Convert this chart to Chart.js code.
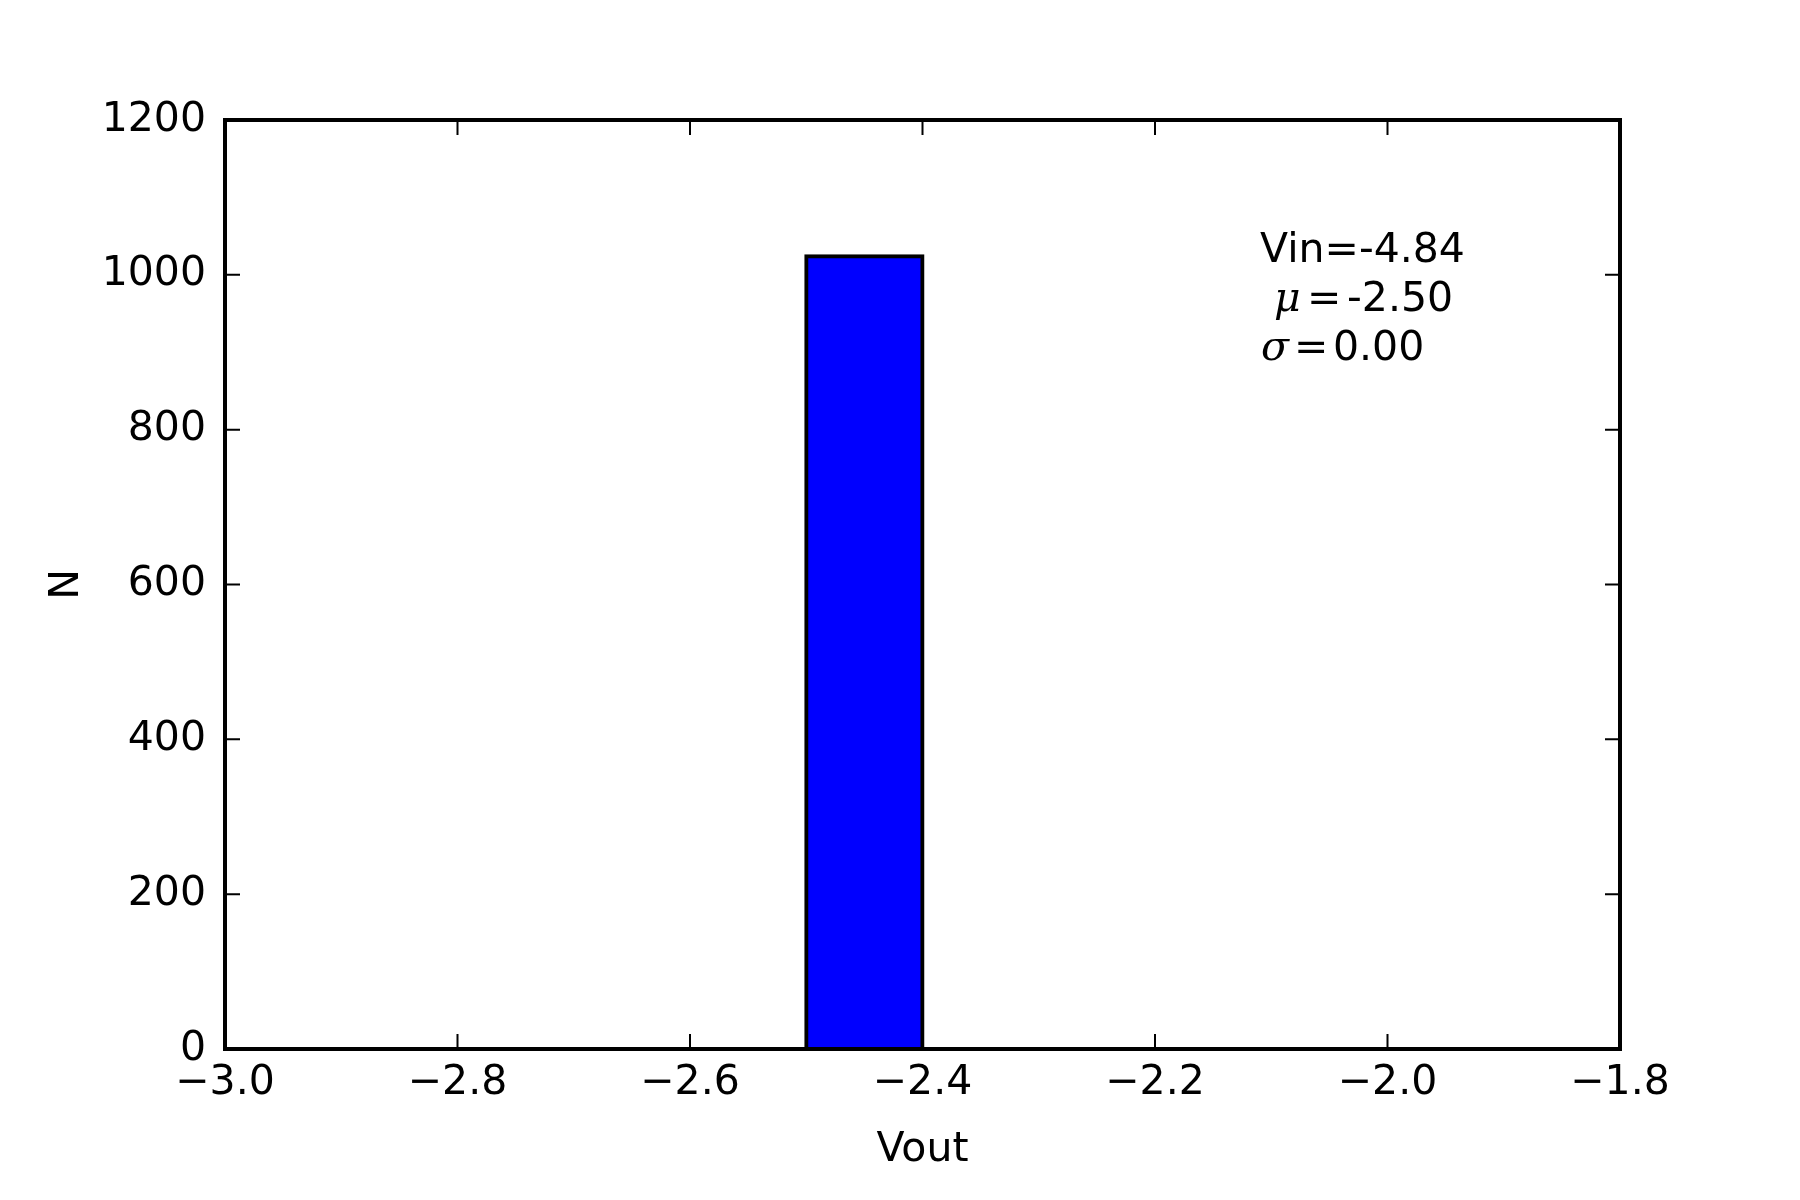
<!DOCTYPE html>
<html>
<head>
<meta charset="utf-8">
<script src="https://cdn.jsdelivr.net/npm/chart.js@4"></script>
<style>
  html, body { margin: 0; padding: 0; background: #fff; }
  canvas { display: block; }
</style>
</head>
<body>
<canvas id="histChart" width="1800" height="1200"></canvas>
<script>
// histogram data (10 bins, all samples landed in one bin)
const binEdges = [-3.0, -2.9, -2.8, -2.7, -2.6, -2.5, -2.4, -2.3, -2.2, -2.1, -2.0];
const counts = [0, 0, 0, 0, 0, 1024, 0, 0, 0, 0];
const xRange = [-3.0, -1.8];
const yRange = [0, 1200];
const xStep = 0.2;
const yStep = 200;
const infoLines = ['Vin=-4.84', '-2.50', '0.00'];

const FONT = 'DejaVu Sans';
const SIZE = 41;

const points = counts.map((c, i) => ({ x: (binEdges[i] + binEdges[i + 1]) / 2, y: c }));

function fmtX(v) {
  return Number(v).toFixed(1).replace('-', '\u2212');
}

// matplotlib classic look: frame, inward ticks on all four sides, text box
const framePlugin = {
  id: 'frame',
  afterDraw(chart) {
    const ctx = chart.ctx;
    const a = chart.chartArea;
    const xs = chart.scales.x;
    const ys = chart.scales.y;
    const tl = 15;
    ctx.save();
    ctx.strokeStyle = '#000';
    ctx.lineWidth = 2;
    ctx.beginPath();
    xs.ticks.forEach(t => {
      const px = xs.getPixelForValue(t.value);
      ctx.moveTo(px, a.bottom); ctx.lineTo(px, a.bottom - tl);
      ctx.moveTo(px, a.top); ctx.lineTo(px, a.top + tl);
    });
    ys.ticks.forEach(t => {
      const py = ys.getPixelForValue(t.value);
      ctx.moveTo(a.left, py); ctx.lineTo(a.left + tl, py);
      ctx.moveTo(a.right, py); ctx.lineTo(a.right - tl, py);
    });
    ctx.stroke();

    ctx.lineWidth = 4;
    ctx.strokeRect(a.left, a.top, a.right - a.left, a.bottom - a.top);

    // stats text
    const x0 = a.left + 1035;
    ctx.fillStyle = '#000';
    ctx.textBaseline = 'alphabetic';
    ctx.textAlign = 'left';
    ctx.font = SIZE + 'px "' + FONT + '"';
    ctx.fillText(infoLines[0], x0, a.top + 142);

    ctx.font = 'italic ' + SIZE + 'px "DejaVu Serif"';
    ctx.fillText('\u03bc', x0 + 14, a.top + 191);
    ctx.font = SIZE + 'px "DejaVu Serif"';
    ctx.fillText('=', x0 + 47, a.top + 191);
    ctx.font = SIZE + 'px "' + FONT + '"';
    ctx.fillText(infoLines[1], x0 + 87, a.top + 191);

    ctx.font = 'italic ' + SIZE + 'px "DejaVu Serif"';
    ctx.fillText('\u03c3', x0 + 1, a.top + 240);
    ctx.font = SIZE + 'px "DejaVu Serif"';
    ctx.fillText('=', x0 + 34, a.top + 240);
    ctx.font = SIZE + 'px "' + FONT + '"';
    ctx.fillText(infoLines[2], x0 + 73, a.top + 240);
    ctx.restore();
  }
};

const ctx = document.getElementById('histChart').getContext('2d');

const histChart = new Chart(ctx, {
  type: 'bar',
  data: {
    datasets: [{
      label: 'Vout',
      data: points,
      backgroundColor: '#0000ff',
      borderColor: '#000',
      borderWidth: 4,
      borderSkipped: 'start',
      inflateAmount: 2,
      barPercentage: 1.0,
      categoryPercentage: 1.0
    }]
  },
  options: {
    responsive: false,
    animation: false,
    devicePixelRatio: 1,
    layout: { padding: { top: 120, right: 180, left: 0, bottom: 0 } },
    plugins: {
      legend: { display: false },
      tooltip: { enabled: false }
    },
    scales: {
      x: {
        type: 'linear',
        min: xRange[0],
        max: xRange[1],
        offset: false,
        grid: { display: false, drawTicks: false },
        border: { display: false },
        ticks: {
          stepSize: xStep,
          padding: 10,
          color: '#000',
          maxRotation: 0,
          autoSkip: false,
          font: { family: FONT, size: SIZE },
          callback: v => fmtX(v)
        },
        title: {
          display: true,
          text: 'Vout',
          color: '#000',
          font: { family: FONT, size: SIZE },
          padding: { top: 0, bottom: 25 }
        },
        afterFit(scale) { scale.height = 151; }
      },
      y: {
        min: yRange[0],
        max: yRange[1],
        grid: { display: false, drawTicks: false },
        border: { display: false },
        ticks: {
          stepSize: yStep,
          padding: 19,
          color: '#000',
          font: { family: FONT, size: SIZE },
          callback: v => String(v)
        },
        title: {
          display: true,
          text: 'N',
          color: '#000',
          font: { family: FONT, size: SIZE },
          padding: { top: 43, bottom: 0 }
        },
        afterFit(scale) { scale.width = 225; }
      }
    }
  },
  plugins: [framePlugin]
});
</script>
</body>
</html>
